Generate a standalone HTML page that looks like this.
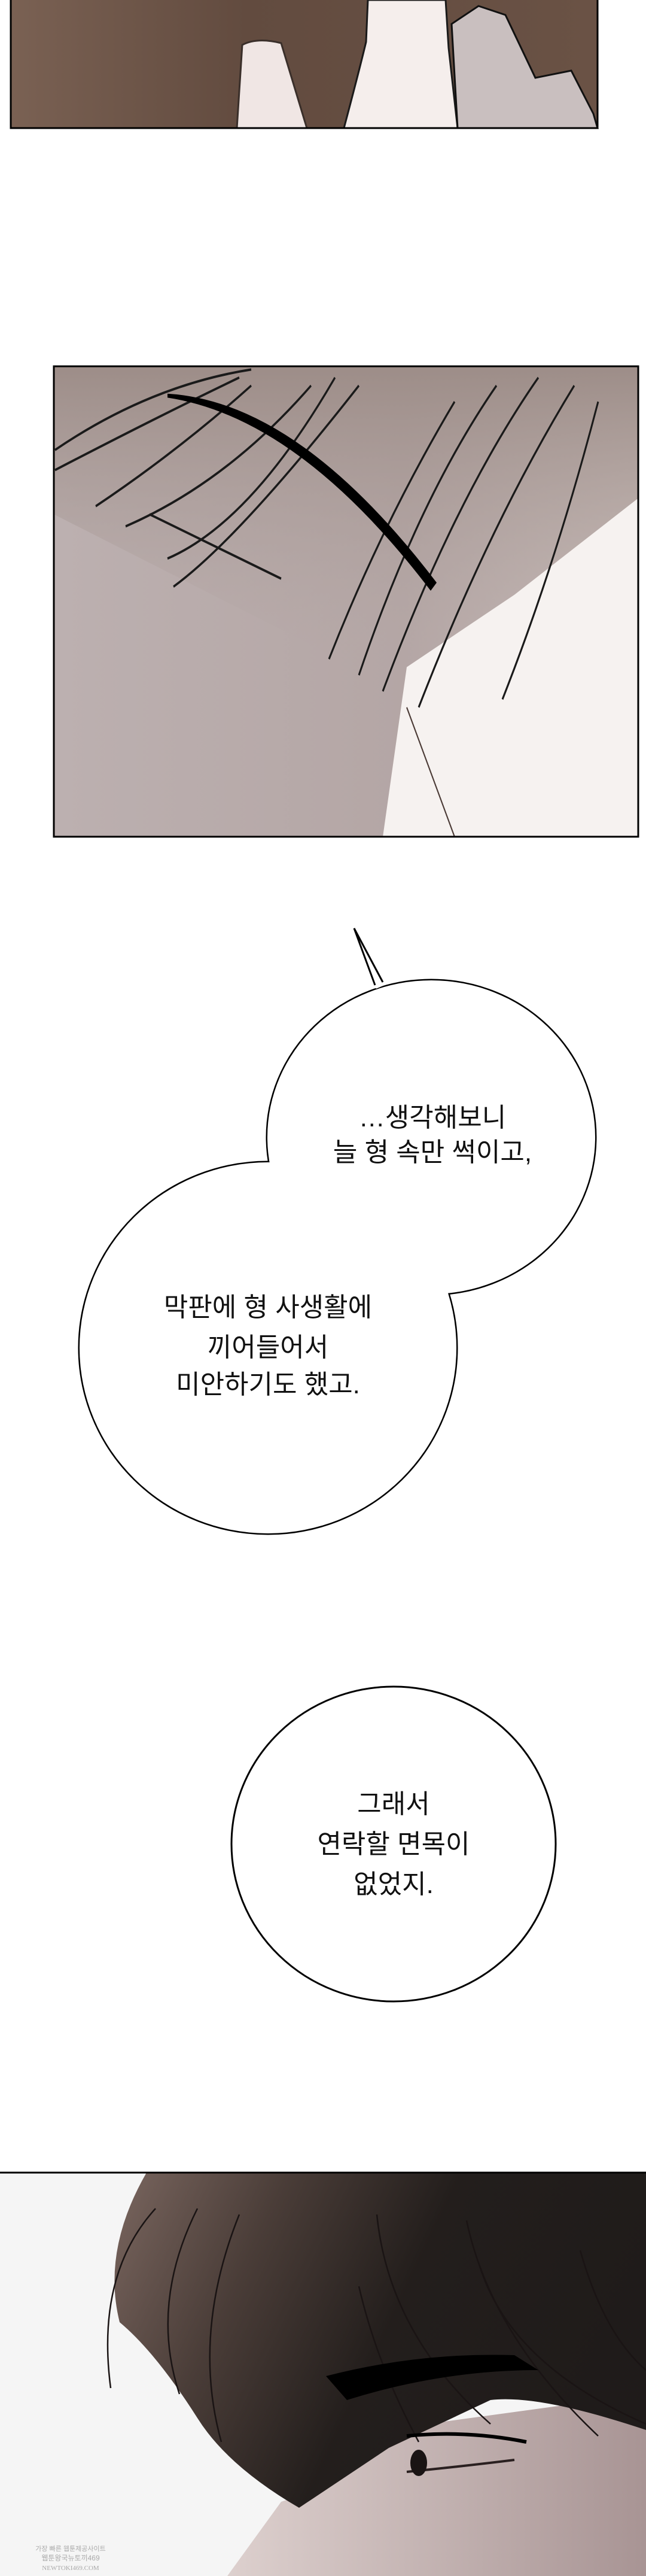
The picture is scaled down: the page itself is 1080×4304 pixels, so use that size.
<!DOCTYPE html>
<html><head><meta charset="utf-8"><style>
html,body{margin:0;padding:0;background:#fff;}
svg{display:block}
text{font-family:"Liberation Sans","Noto Sans CJK KR",sans-serif;font-size:44px;fill:#111;text-anchor:middle}
</style></head><body>
<svg width="1080" height="4304" viewBox="0 0 1080 4304" xmlns="http://www.w3.org/2000/svg">
<defs>
<linearGradient id="p1" x1="0" y1="0" x2="1" y2="0"><stop offset="0" stop-color="#7a6153"/><stop offset="0.4" stop-color="#624b3f"/><stop offset="1" stop-color="#6a5245"/></linearGradient>
<linearGradient id="p2" x1="0" y1="0" x2="1" y2="0"><stop offset="0" stop-color="#bcb0b0"/><stop offset="0.6" stop-color="#b4a6a5"/><stop offset="1" stop-color="#c8bcb8"/></linearGradient>
<linearGradient id="p2h" x1="0" y1="0" x2="0" y2="1"><stop offset="0" stop-color="#9d8d88"/><stop offset="1" stop-color="#b6a9a7" stop-opacity="0"/></linearGradient>
<linearGradient id="hair" x1="0" y1="0" x2="1" y2="0.3"><stop offset="0" stop-color="#7a665f"/><stop offset="0.3" stop-color="#4a3d38"/><stop offset="0.6" stop-color="#231e1c"/><stop offset="1" stop-color="#1f1b1a"/></linearGradient>
<linearGradient id="face" x1="0" y1="0" x2="1" y2="0"><stop offset="0" stop-color="#ddd0ce"/><stop offset="1" stop-color="#a89494"/></linearGradient>
</defs>
<!-- panel 1 -->
<rect x="18" y="0" width="981" height="214" fill="url(#p1)"/>
<path d="M396 214 L405 75 Q430 62 470 72 L513 214 Z" fill="#f0e6e4" stroke="#3a2f2a" stroke-width="3"/>
<path d="M575 214 Q600 120 612 70 L615 0 L745 0 L750 80 L765 214 Z" fill="#f5eeec" stroke="#1a1a1a" stroke-width="3"/>
<path d="M765 214 L755 40 L800 10 L845 25 L895 130 L955 118 L992 190 L999 214 Z" fill="#c9bfbf" stroke="#111" stroke-width="3"/>
<rect x="18" y="-4" width="981" height="218" fill="none" stroke="#000" stroke-width="3"/>
<!-- panel 2 -->
<g transform="translate(0,612) scale(1,1.344) translate(0,-456)">
<rect x="90" y="456" width="977" height="585" fill="url(#p2)"/>
<path d="M90 456 L1067 456 L1067 760 L620 840 L90 640 Z" fill="url(#p2h)"/>
<path d="M640 1041 L680 830 L860 740 L1067 620 L1067 1041 Z" fill="#f6f2f0"/>
<g stroke="#1a1a1a" stroke-width="3" fill="none">
<path d="M92 560 Q250 480 420 460"/>
<path d="M92 585 Q260 520 400 470"/>
<path d="M160 630 Q300 560 420 480"/>
<path d="M210 655 Q380 600 520 480"/>
<path d="M280 695 Q420 650 560 470"/>
<path d="M290 730 Q400 670 600 480"/>
<path d="M550 820 Q640 650 760 500"/>
<path d="M600 840 Q700 620 830 480"/>
<path d="M640 860 Q760 620 900 470"/>
<path d="M700 880 Q820 650 960 480"/>
<path d="M840 870 Q930 700 1000 500"/>
<path d="M250 640 L470 720"/>
</g>
<path d="M280 490 Q500 500 730 725 L720 735 Q500 520 280 495Z" fill="#000"/>
<path d="M680 880 L760 1041" stroke="#4a3a35" stroke-width="2"/>
</g>
<rect x="90" y="612" width="977" height="786" fill="none" stroke="#000" stroke-width="3"/>
<!-- bubble 1 & 2 -->
<path d="M640 1641 L592 1551 L627 1646" fill="#fff" stroke="#000" stroke-width="3"/>
<ellipse cx="721" cy="1900" rx="274" ry="262" fill="#fff" stroke="#000" stroke-width="5"/>
<ellipse cx="448" cy="2252" rx="315" ry="310" fill="#fff" stroke="#000" stroke-width="5"/>
<ellipse cx="721" cy="1900" rx="274" ry="262" fill="#fff"/>
<ellipse cx="448" cy="2252" rx="315" ry="310" fill="#fff"/>
<path d="M628 1650 L640 1645" stroke="#fff" stroke-width="4"/>
<text x="723" y="1882">…생각해보니</text>
<text x="723" y="1940">늘 형 속만 썩이고,</text>
<text x="448" y="2199">막판에 형 사생활에</text>
<text x="448" y="2266">끼어들어서</text>
<text x="448" y="2328">미안하기도 했고.</text>
<!-- bubble 3 -->
<ellipse cx="658" cy="3081" rx="271" ry="263" fill="#fff" stroke="#000" stroke-width="3"/>
<text x="658" y="3029">그래서</text>
<text x="658" y="3096">연락할 면목이</text>
<text x="658" y="3163">없었지.</text>
<!-- panel 4 -->
<rect x="0" y="3630" width="1080" height="674" fill="#f5f5f5"/>
<path d="M380 4304 L470 4180 Q560 4150 640 4060 L1080 4000 L1080 4304 Z" fill="url(#face)"/>
<path d="M245 3630 L1080 3630 L1080 4060 Q900 4000 820 4010 L650 4090 Q560 4150 500 4190 Q380 4120 330 4040 Q260 3930 200 3880 Q170 3760 245 3630Z" fill="url(#hair)"/>
<g stroke="#1a1414" stroke-width="2.5" fill="none">
<path d="M185 3990 Q160 3800 260 3690"/>
<path d="M300 4000 Q250 3850 330 3690"/>
<path d="M370 4080 Q320 3900 400 3700"/>
<path d="M600 3820 Q630 3950 700 4080"/>
<path d="M630 3700 Q650 3900 820 4050"/>
<path d="M780 3710 Q820 3900 1000 4070"/>
<path d="M800 3780 Q850 3950 1080 4050"/>
<path d="M970 3760 Q1010 3900 1080 3960"/>
</g>
<path d="M545 3970 Q700 3930 860 3935 L900 3960 Q740 3960 580 4010 Z" fill="#000"/>
<path d="M680 4070 Q780 4060 880 4080" stroke="#000" stroke-width="6" fill="none"/>
<path d="M680 4130 Q780 4120 860 4110" stroke="#2a2020" stroke-width="4" fill="none"/>
<ellipse cx="700" cy="4115" rx="14" ry="22" fill="#1a1414"/>
<line x1="0" y1="3630" x2="1080" y2="3630" stroke="#000" stroke-width="3"/>
<text x="118" y="4262" style="font-size:11px;fill:#aaa">가장 빠른 웹툰제공사이트</text>
<text x="118" y="4278" style="font-size:12px;fill:#aaa">웹툰왕국뉴토끼469</text>
<text x="118" y="4294" style="font-size:11px;fill:#aaa;font-family:'Liberation Serif',serif">NEWTOKI469.COM</text>
</svg>
</body></html>
